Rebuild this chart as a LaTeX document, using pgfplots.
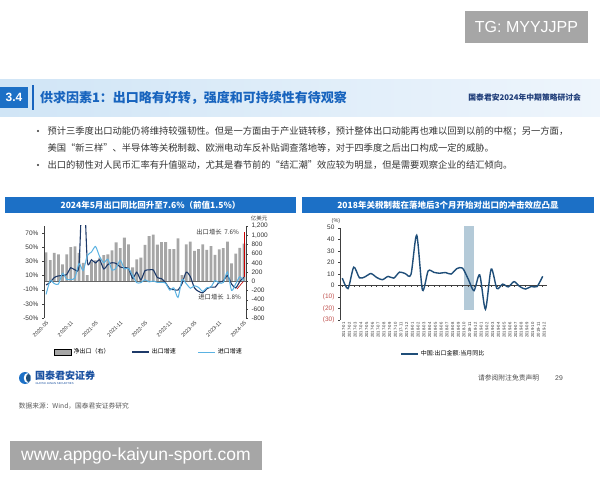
\documentclass[border=0pt]{standalone}
\usepackage{pgfplots}
\pgfplotsset{compat=1.18}
\usepackage{pgfplotstable}
\usepackage{fontspec}
\setmainfont{Liberation Sans}
\newfontfamily\cjk{Noto Sans CJK SC}
\definecolor{barGray}{RGB}{166,166,166}
\definecolor{expBlue}{RGB}{30,58,105}
\definecolor{impBlue}{RGB}{90,178,226}
\definecolor{titleBlue}{RGB}{24,100,190}
\definecolor{barBlue}{RGB}{28,112,198}
\definecolor{navy}{RGB}{31,78,121}
\definecolor{negRed}{RGB}{192,80,77}
\definecolor{bandBlue}{RGB}{180,202,216}
\definecolor{txtGray}{RGB}{51,51,51}
\newcommand{\fs}[1]{\fontsize{#1}{#1}\selectfont}

\pgfplotstableread{
i net exp imp
0 625 -3.3 -16.7
1 458 0.5 2.7
2 618 7.2 -1.4
3 582 9.5 -2.1
4 364 9.9 13.2
5 582 11.4 4.7
6 742 21.1 4.5
7 756 18.1 6.5
8 618 25 27
9 400 155 17
10 130 30.6 38.1
11 429 32.3 43.1
12 455 27.9 51.1
13 515 32.2 36.7
14 566 19.3 28.1
15 583 25.6 33.1
16 668 28.1 17.6
17 845 27.1 20.6
18 717 22.0 31.7
19 945 20.9 19.5
20 800 20 20
21 300 6 10
22 474 14.7 -0.1
23 511 3.9 0.0
24 788 16.9 4.1
25 979 17.9 1.0
26 1013 18.0 2.3
27 794 7.1 0.3
28 847 5.7 0.3
29 852 -0.3 -0.7
30 698 -8.7 -10.6
31 700 -9.9 -7.5
32 930 -10.5 -21
33 130 -1.3 4
34 800 14.8 -1.4
35 860 8.5 -7.9
36 660 -7.5 -4.5
37 700 -12.4 -6.8
38 800 -14.5 -12.4
39 680 -8.8 -7.3
40 760 -6.2 -6.2
41 570 -6.4 3.0
42 690 0.5 -0.6
43 720 2.3 0.2
44 860 10 15
45 390 -2 -11
46 600 -7.5 -1.9
47 724 1.5 8.4
48 815 7.6 1.8
}\leftdata

\pgfplotstableread{
i v
0 6.3
1 -2.8
2 15.8
3 6.5
4 7.5
5 10.3
6 6.9
7 4.9
8 7.8
9 6.3
10 11.5
11 10.2
12 9.5
13 43.5
14 -4.0
15 12.6
16 11.3
17 10.5
18 11.2
19 9.8
20 14.5
21 15.0
22 5.4
23 -4.6
24 9.1
25 -20.7
26 14.2
27 -2.7
28 1.1
29 -1.3
30 3.3
31 -1.0
32 -3.2
33 -0.9
34 -1.1
35 7.9
}\rightdata

\begin{document}
\begin{tikzpicture}[x=1pt,y=1pt, lbl/.style={inner sep=0pt, outer sep=0pt}]
\fill[white] (0,0) rectangle (600,480);
\useasboundingbox (0,0) rectangle (600,480);

% watermark top
\fill[black!35] (465,437) rectangle (588,469);
\node[lbl, white, font=\fs{16}] at (526.5,453) {TG: MYYJJPP};

% header band
\shade[left color={rgb,255:red,208;green,229;blue,246}, right color={rgb,255:red,238;green,245;blue,252}] (0,363) rectangle (600,400);
\fill[barBlue] (0,372) rectangle (28,393);
\node[lbl, white, font=\fs{12}\bfseries] at (14,382.5) {3.4};
\fill[titleBlue] (32,370) rectangle (34.2,395);
\node[lbl, anchor=west, text=titleBlue, font=\cjk\fs{13}\bfseries] at (40,382.5) {供求因素1：出口略有好转，强度和可持续性有待观察};
\node[lbl, anchor=east, text={rgb,255:red,30;green,60;blue,120}, font=\cjk\fs{7.8}\bfseries] at (581,382.5) {国泰君安2024年中期策略研讨会};

% bullets
\fill[txtGray] (38,349) circle (1.1);
\fill[txtGray] (38,315) circle (1.1);
\node[lbl, anchor=west, text=txtGray, font=\cjk\fs{9.3}] at (47.5,349) {预计三季度出口动能仍将维持较强韧性。但是一方面由于产业链转移，预计整体出口动能再也难以回到以前的中枢；另一方面，};
\node[lbl, anchor=west, text=txtGray, font=\cjk\fs{9.3}] at (47.5,332) {美国“新三样”、半导体等关税制裁、欧洲电动车反补贴调查落地等，对于四季度之后出口构成一定的威胁。};
\node[lbl, anchor=west, text=txtGray, font=\cjk\fs{9.3}] at (47.5,315) {出口的韧性对人民币汇率有升值驱动，尤其是春节前的“结汇潮”效应较为明显，但是需要观察企业的结汇倾向。};

% chart title bars
\fill[barBlue] (5,267) rectangle (296,283);
\node[lbl, white, font=\cjk\fs{8.5}\bfseries] at (150.5,275) {2024年5月出口同比回升至7.6\%（前值1.5\%）};
\fill[barBlue] (302,267) rectangle (594,283);
\node[lbl, white, font=\cjk\fs{8.5}\bfseries] at (448,275) {2018年关税制裁在落地后3个月开始对出口的冲击效应凸显};

% ---------- left chart: bars (right axis)
\begin{axis}[
  at={(44pt,162pt)}, anchor=south west,
  scale only axis, width=202pt, height=92pt,
  xmin=-0.5, xmax=48.5, ymin=-800, ymax=1200,
  axis y line*=right, axis x line=none,
  y axis line style={draw=black!75, line width=0.5pt},
  ytick={-800,-600,...,1200},
  tick align=outside, major tick length=2pt,
  ytick style={black!75},
  /pgf/number format/1000 sep={,},
  /pgf/number format/assume math mode=true,
  yticklabel style={font=\fs{6.5}, text=black!80},
]
\addplot[ybar, bar width=2.8pt, fill=barGray, draw=none] table[x=i, y=net] {\leftdata};
\draw[black!60, line width=0.4pt] (axis cs:-0.5,0) -- (axis cs:48.5,0);
\end{axis}

% ---------- left chart: lines (left axis)
\begin{axis}[
  at={(44pt,162pt)}, anchor=south west,
  scale only axis, width=202pt, height=92pt,
  xmin=-0.5, xmax=48.5, ymin=-50, ymax=80,
  axis y line*=left, axis x line*=bottom,
  x axis line style={draw=none},
  y axis line style={draw=black!75, line width=0.5pt},
  xtick={0,6,...,48},
  xticklabels={2020-05,2020-11,2021-05,2021-11,2022-05,2022-11,2023-05,2023-11,2024-05},
  x tick label style={rotate=45, anchor=north east, font=\fs{5.3}, inner sep=0.5pt, text=black!80},
  major x tick style={draw=none},
  ytick={-50,-30,...,70},
  yticklabel={\pgfmathprintnumber{\tick}\%},
  yticklabel style={font=\fs{6.5}, text=black!80},
  /pgf/number format/assume math mode=true,
  tick align=outside, major tick length=2pt,
  ytick style={black!75},
  legend style={at={(0.52,-0.37)}, anchor=center, draw=none, fill=none, font=\cjk\fs{6}, legend columns=3,
    /tikz/every even column/.append style={column sep=20pt}},
  legend cell align=left,
]
\addlegendimage{area legend, fill=barGray, draw=none}
\addlegendentry{净出口（右）}
\addplot[expBlue, line width=1.1pt, smooth, tension=0.4] table[x=i,y=exp] {\leftdata};
\addlegendentry{出口增速}
\addplot[impBlue, line width=1pt, smooth, tension=0.4] table[x=i,y=imp] {\leftdata};
\addlegendentry{进口增速}
\draw[red!80!black, line width=0.6pt] (axis cs:48,7.6) -- (axis cs:48,71);
\draw[red!80!black, line width=0.6pt] (axis cs:46.3,-9) -- (axis cs:47.9,1.8);
\end{axis}
\node[lbl, font=\cjk\fs{5.5}, text=black!75] at (259,262) {亿美元};
\node[lbl, anchor=east, font=\cjk\fs{6.3}, text=black!80] at (239,248) {出口增长\ \ 7.6\%};
\node[lbl, anchor=east, font=\cjk\fs{6.3}, text=black!80] at (241,183) {进口增长\ \ 1.8\%};

% ---------- right chart
\begin{axis}[
  at={(340pt,160pt)}, anchor=south west,
  scale only axis, width=206.7pt, height=92.3pt,
  xmin=-0.4, xmax=35.7, ymin=-30, ymax=50,
  axis y line*=left, axis x line*=bottom,
  x axis line style={draw=none}, major x tick style={draw=none},
  y axis line style={draw=black!75, line width=0.5pt},
  xtick={0,...,35},
  xticklabels={2017-01,2017-02,2017-03,2017-04,2017-05,2017-06,2017-07,2017-08,2017-09,2017-10,2017-11,2017-12,
    2018-01,2018-02,2018-03,2018-04,2018-05,2018-06,2018-07,2018-08,2018-09,2018-10,2018-11,2018-12,
    2019-01,2019-02,2019-03,2019-04,2019-05,2019-06,2019-07,2019-08,2019-09,2019-10,2019-11,2019-12},
  x tick label style={rotate=90, anchor=east, font=\fs{4.2}, inner sep=0.2pt, text=black!80, yshift=-1.5pt},
  ytick={-30,-20,...,50},
  yticklabels={{\textcolor{negRed}{(30)}},{\textcolor{negRed}{(20)}},{\textcolor{negRed}{(10)}},0,10,20,30,40,50},
  yticklabel style={font=\fs{6.5}, text=black!80},
  tick align=outside, major tick length=2pt,
  ytick style={black!75},
  clip=false,
  legend style={at={(0.5,-0.37)}, anchor=center, draw=none, fill=none, font=\cjk\fs{6}},
]
\fill[bandBlue] (axis cs:21.2,-21) rectangle (axis cs:23,51.5);
\draw[black!75, line width=0.5pt] (axis cs:-0.4,0) -- (axis cs:35.7,0);
\pgfplotsinvokeforeach{0,...,35}{\draw[black!75, line width=0.4pt] (axis cs:#1,0) -- (axis cs:#1,-1.3);}
\addplot[navy, line width=1.4pt, smooth, tension=0.45] table[x=i,y=v] {\rightdata};
\addlegendentry{中国:出口金额:当月同比}
\end{axis}
\node[lbl, font=\fs{5.5}, text=black!75] at (336,259) {(\%)};

% footer
\fill[barBlue] (25,102) circle (6);
\fill[white] (27.2,102) ellipse (3.4 and 4.8);
\fill[navy] (28.2,102) ellipse (2.2 and 4.0);
\node[lbl, anchor=west, font=\cjk\fs{10}\bfseries, text={rgb,255:red,25;green,80;blue,160}] at (35,104) {国泰君安证券};
\node[lbl, anchor=west, font=\fs{2.8}, text={rgb,255:red,25;green,80;blue,160}] at (35.5,96.5) {GUOTAI JUNAN SECURITIES};
\node[lbl, anchor=west, font=\cjk\fs{6.7}, text=black!65] at (19,74) {数据来源：Wind，国泰君安证券研究};
\node[lbl, anchor=west, font=\cjk\fs{6.8}, text=black!70] at (478,102) {请参阅附注免责声明};
\node[lbl, font=\fs{6.8}, text=black!70] at (559,102) {29};

% watermark bottom
\fill[black!35] (10,10) rectangle (262,39);
\node[lbl, white, font=\fs{17.5}] at (136,24.5) {www.appgo-kaiyun-sport.com};
\end{tikzpicture}
\end{document}
